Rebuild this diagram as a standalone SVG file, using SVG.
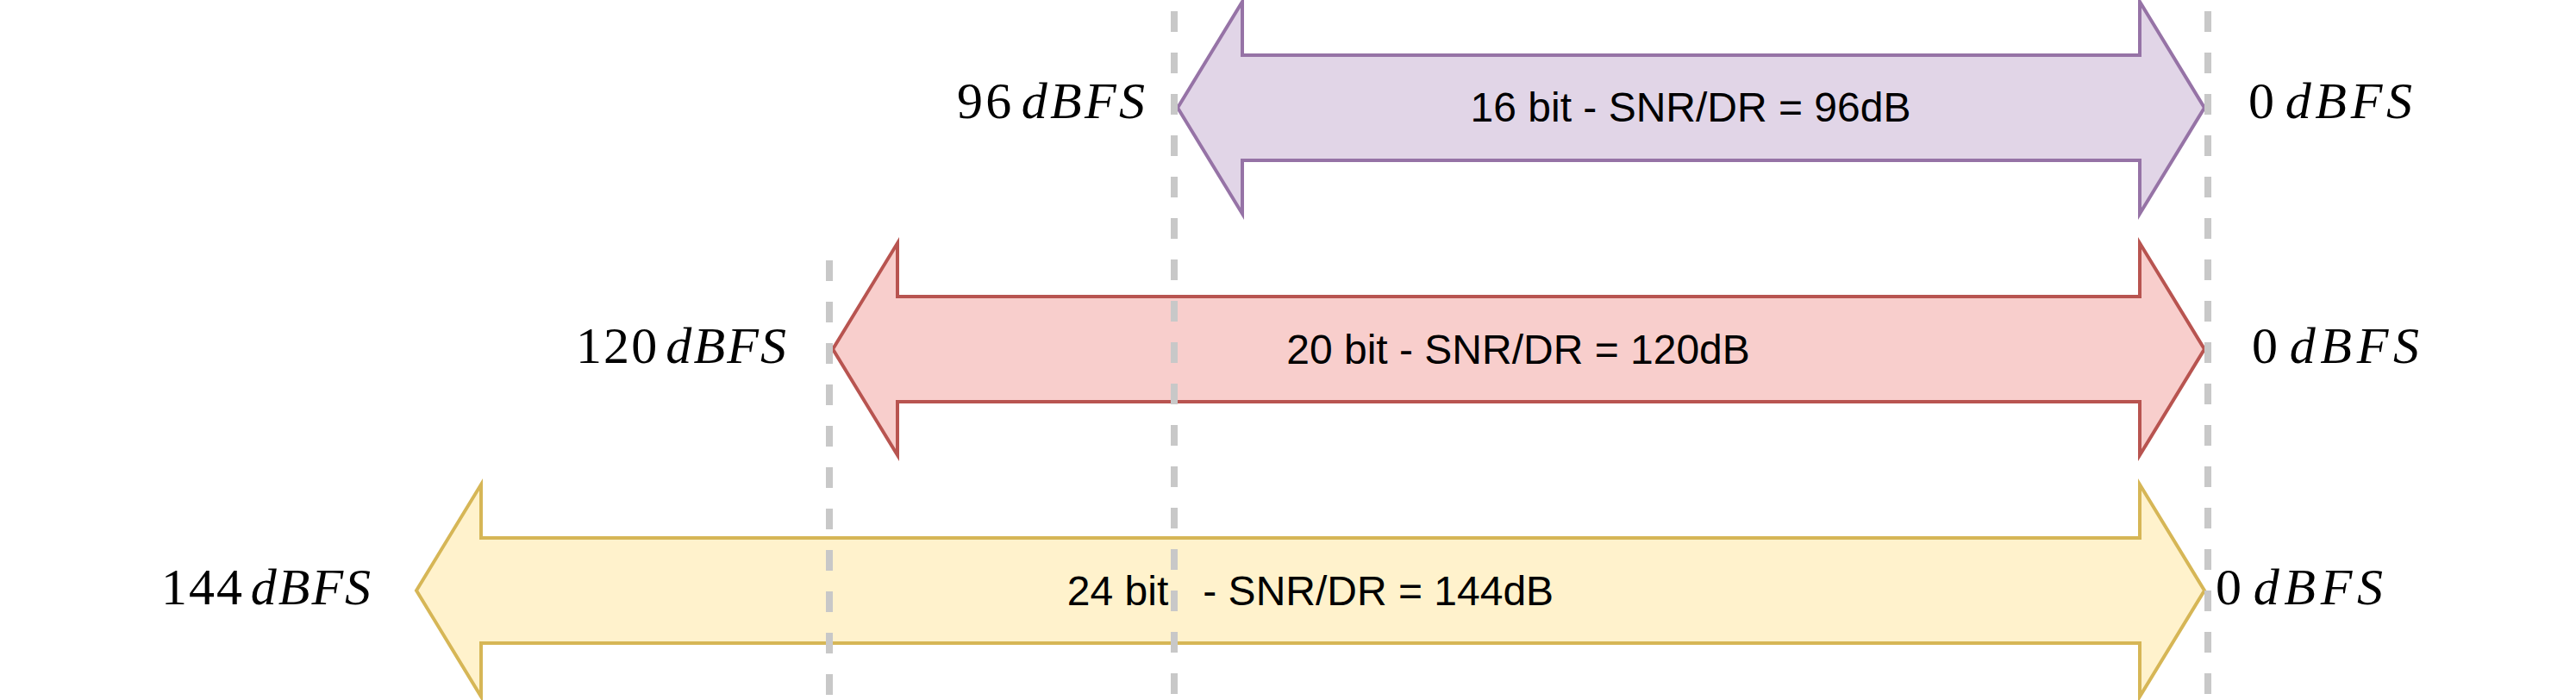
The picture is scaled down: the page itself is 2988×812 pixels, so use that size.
<svg xmlns="http://www.w3.org/2000/svg" width="2988" height="812" viewBox="0 0 2988 812">
  <style>
    .arrow { stroke-width: 4; stroke-linejoin: miter; }
    .purple { fill: #e1d5e7; stroke: #9673a6; }
    .red { fill: #f8cecc; stroke: #b85450; }
    .yellow { fill: #fff2cc; stroke: #d6b656; }
    .lbl { font-family: "Liberation Sans", Arial, Helvetica, sans-serif; font-size: 48px; fill: #000; text-anchor: middle; }
    .math { font-family: "Liberation Serif", "Times New Roman", serif; font-size: 60px; fill: #000; }
    .it { font-style: italic; }
    .guide { stroke: #c8c8c8; stroke-width: 8; stroke-dasharray: 24 24; fill: none; }
  </style>
  <rect width="2988" height="812" fill="#ffffff"/>

  <g id="arrow16">
    <polygon class="arrow purple" points="1366,125 1441,2 1441,64 2482,64 2482,2 2557,125 2482,248 2482,186 1441,186 1441,248"/>
    <text class="lbl" x="1961" y="141">16 bit - SNR/DR = 96dB</text>
  </g>

  <g id="arrow20">
    <polygon class="arrow red" points="966,405 1041,282 1041,344 2482,344 2482,282 2557,405 2482,528 2482,466 1041,466 1041,528"/>
    <text class="lbl" x="1761" y="422">20 bit - SNR/DR = 120dB</text>
  </g>

  <g id="arrow24">
    <polygon class="arrow yellow" points="483,685 558,562 558,624 2482,624 2482,562 2557,685 2482,808 2482,746 558,746 558,808"/>
    <text class="lbl" x="1520" y="702" xml:space="preserve">24 bit&#160;&#160; - SNR/DR = 144dB</text>
  </g>

  <g id="label96">
    <text class="math" x="1110" y="137" textLength="218" lengthAdjust="spacing">96<tspan class="it" dx="8">dBFS</tspan></text>
  </g>
  <g id="label0a">
    <text class="math" x="2608" y="137" textLength="190" lengthAdjust="spacing">0<tspan class="it" dx="8">dBFS</tspan></text>
  </g>
  <g id="label120">
    <text class="math" x="668" y="421" textLength="244" lengthAdjust="spacing">120<tspan class="it" dx="8">dBFS</tspan></text>
  </g>
  <g id="label0b">
    <text class="math" x="2612" y="421" textLength="194" lengthAdjust="spacing">0<tspan class="it" dx="8">dBFS</tspan></text>
  </g>
  <g id="label144">
    <text class="math" x="187" y="701" textLength="243" lengthAdjust="spacing">144<tspan class="it" dx="8">dBFS</tspan></text>
  </g>
  <g id="label0c">
    <text class="math" x="2570" y="701" textLength="194" lengthAdjust="spacing">0<tspan class="it" dx="8">dBFS</tspan></text>
  </g>

  <g id="connectors">
    <line class="guide" x1="962" y1="302" x2="962" y2="812"/>
    <line class="guide" x1="1362" y1="13" x2="1362" y2="812"/>
    <line class="guide" x1="2561" y1="13" x2="2561" y2="812"/>
  </g>
</svg>
